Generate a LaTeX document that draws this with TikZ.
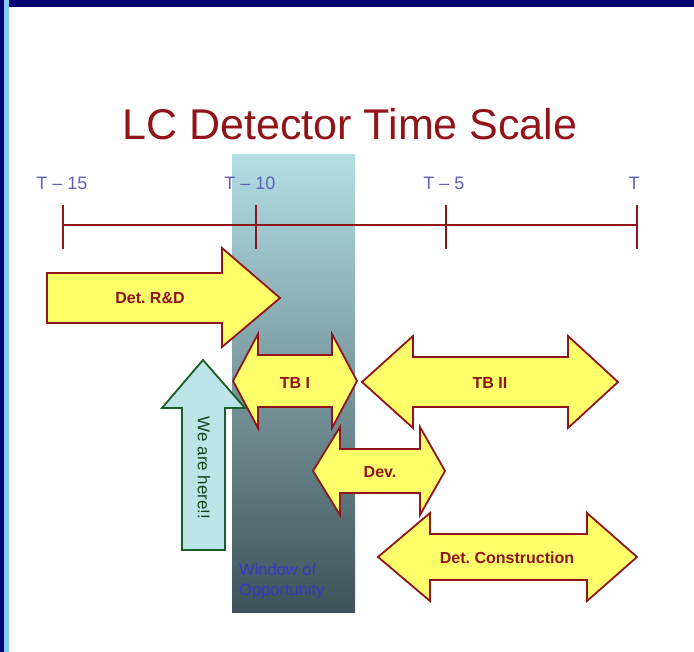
\documentclass[tikz,border=0pt]{standalone}
\usepackage{fontspec}
\setmainfont{Liberation Sans}
\frenchspacing
\definecolor{navy}{RGB}{0,0,115}
\definecolor{stripe}{RGB}{130,205,235}
\definecolor{darkred}{RGB}{145,20,25}
\definecolor{lablue}{RGB}{95,95,185}
\definecolor{winblue}{RGB}{55,55,200}
\definecolor{ayellow}{RGB}{255,255,105}
\definecolor{hgreen}{RGB}{25,95,40}
\definecolor{hcyan}{RGB}{188,228,232}
\definecolor{wtop}{RGB}{178,222,228}
\definecolor{wmid}{RGB}{132,172,178}
\definecolor{wbot}{RGB}{62,82,88}
\begin{document}
\begin{tikzpicture}[x=1pt,y=-1pt,
  yarrow/.style={fill=ayellow,draw=darkred,line width=1.8pt,line join=miter},
  alabel/.style={text=darkred,font=\fontsize{16}{16}\selectfont\bfseries,inner sep=0pt},
  tlabel/.style={text=lablue,font=\fontsize{18}{18}\selectfont,inner sep=0pt},
  tlinestyle/.style={draw=darkred,line width=2.8pt}]
\useasboundingbox (0,0) rectangle (694,652);
\fill[white] (0,0) rectangle (694,652);
% frame
\fill[navy] (0,0) rectangle (4,652);
\fill[stripe] (4,0) rectangle (9,652);
\fill[navy] (9,0) rectangle (694,7);
% window of opportunity
\shade[top color=wtop,middle color=wmid,bottom color=wbot] (232,155) rectangle (355,612);
\node[anchor=north west,align=left,text=winblue,font=\fontsize{16.5}{20}\selectfont,inner sep=0pt] (win) at (239,563) {Window of\\Opportunity};
% title
\node[text=darkred,font=\fontsize{43}{43}\selectfont,inner sep=0pt] (title) at (350,124) {LC Detector Time Scale};
% timeline
\coordinate (t15) at (63,225);
\coordinate (t10) at (256,225);
\coordinate (t5) at (446,225);
\coordinate (t0) at (637,225);
\draw[tlinestyle] (t15) -- (t0);
\foreach \c in {t15,t10,t5,t0}{\draw[tlinestyle] ([yshift=-24pt]\c) -- ([yshift=20pt]\c);}
\node[tlabel] (l15) at (62,183) {T – 15};
\node[tlabel] (l10) at (250,183) {T – 10};
\node[tlabel] (l5) at (444,183) {T – 5};
\node[tlabel] (l0) at (634,183) {T};
% Det. R&D
\draw[yarrow] (47,273) -- (222,273) -- (222,248) -- (280,298) -- (222,347) -- (222,323) -- (47,323) -- cycle;
\node[alabel] (rd) at (150,298) {Det. R\&D};
% We are here
\draw[fill=hcyan,draw=hgreen,line width=1.8pt,line join=miter] (203,360) -- (245,408) -- (225,408) -- (225,550) -- (182,550) -- (182,408) -- (162,408) -- cycle;
\node[rotate=-90,text=hgreen!70!black,font=\fontsize{17}{17}\selectfont,inner sep=0pt] (here) at (204,468) {We are here!!};
% TB I
\draw[yarrow] (233,381) -- (258,334) -- (258,355) -- (332,355) -- (332,334) -- (357,381) -- (332,428) -- (332,407) -- (258,407) -- (258,428) -- cycle;
\node[alabel] (tb1) at (295,383) {TB I};
% TB II
\draw[yarrow] (362,382) -- (413,336) -- (413,357) -- (568,357) -- (568,336) -- (618,382) -- (568,428) -- (568,407) -- (413,407) -- (413,428) -- cycle;
\node[alabel] (tb2) at (490,383) {TB II};
% Dev.
\draw[yarrow] (313,471) -- (340,427) -- (340,449) -- (420,449) -- (420,427) -- (445,471) -- (420,515) -- (420,493) -- (340,493) -- (340,515) -- cycle;
\node[alabel] (dev) at (380,472) {Dev.};
% Det. Construction
\draw[yarrow] (378,557) -- (430,513) -- (430,534) -- (587,534) -- (587,513) -- (637,557) -- (587,601) -- (587,580) -- (430,580) -- (430,601) -- cycle;
\node[alabel] (dc) at (507,558) {Det. Construction};
\end{tikzpicture}
\end{document}
